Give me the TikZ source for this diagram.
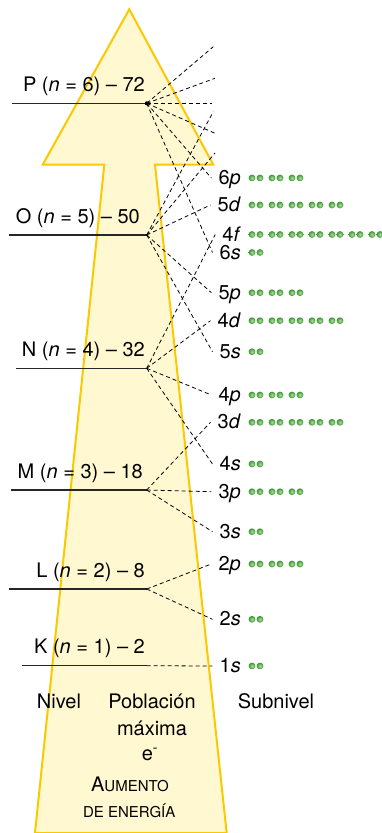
\documentclass[tikz,border=0pt]{standalone}
\usepackage{fontspec}
\setmainfont{TeX Gyre Heros}
\usetikzlibrary{calc}
\definecolor{arrowfill}{RGB}{255,248,209}
\definecolor{arrowedge}{RGB}{252,200,0}
\definecolor{dotgreen}{RGB}{56,150,50}
\definecolor{dotlight}{RGB}{175,222,155}

\begin{document}
\begin{tikzpicture}[x=1pt,y=-1pt,
    txt/.style={font=\fontsize{20}{24}\selectfont,inner sep=0pt},
    level/.style={line width=1.1pt,black!85},
    fan/.style={dash pattern=on 4pt off 3pt,line width=0.8pt},
    sub/.style={txt,anchor=east,inner xsep=7pt,text height=13pt,text depth=0pt}]
  \useasboundingbox (0,0) rectangle (382,833);
  % energy arrow
  \draw[line width=2pt,arrowedge,fill=arrowfill,line join=miter]
    (129.3,9.3) -- (213.3,164.7) -- (155,164.7) -- (226.7,833)
    -- (35,833) -- (104.3,164.7) -- (42.7,164.7) -- cycle;
  % levels: name / n / population / line start / label end / height
  \foreach \lvl/\qn/\pop/\xs/\xl/\yy in {P/6/72/12.3/145/103.3, O/5/50/9.3/140/235,
      N/4/32/16/145/368.3, M/3/18/11/143/490, L/2/8/9.3/145/589, K/1/2/21.7/145/665.7}{
    \coordinate (\lvl) at (146.7,\yy);
    \coordinate (start\lvl) at (\xs,\yy);
    \draw[level] (start\lvl) -- (\lvl);
    \node[txt,anchor=base east] (lab\lvl) at (\xl,\yy-11.8)
      {\lvl\ (\textit{n} = \qn) – \pop};
  }
  % sublevels with their electrons
  \foreach \qn/\orb/\yy/\pairs in {6/p/178/3, 5/d/205/5, 4/f/234.5/7, 6/s/252.5/1,
      5/p/292.7/3, 4/d/320.7/5, 5/s/351.7/1, 4/p/395/3, 3/d/422.3/5, 4/s/464/1,
      3/p/491.7/3, 3/s/531.7/1, 2/p/564/3, 2/s/619.3/1, 1/s/666/1}{
    \node[sub] (sub\qn\orb) at (248,\yy) {\qn\textit{\orb}};
    \foreach \k in {1,...,\pairs}
      \foreach \dx in {0,8}
        \shade[inner color=dotlight,outer color=dotgreen] (232+20*\k+\dx,\yy) circle (3.4);
  }
  % free ends of the upper fans
  \coordinate (endP1) at (213.3,46.7);
  \coordinate (endP2) at (215,78.3);
  \coordinate (endP3) at (212,103.3);
  \coordinate (endP4) at (215,133.3);
  \coordinate (endO1) at (213.3,111.7);
  \coordinate (endO2) at (215,153);
  % dashed fans
  \foreach \t in {endP1,endP2,endP3,endP4,sub6p.west,sub6s.west}
    \draw[fan] (P) -- (\t);
  \foreach \t in {endO1,endO2,sub5d.west,sub5p.west,sub5s.west}
    \draw[fan] (O) -- (\t);
  \foreach \t in {sub4f.west,sub4d.west,sub4p.west,sub4s.west}
    \draw[fan] (N) -- (\t);
  \foreach \t in {sub3d.west,sub3p.west,sub3s.west}
    \draw[fan] (M) -- (\t);
  \foreach \t in {sub2p.west,sub2s.west}
    \draw[fan] (L) -- (\t);
  \draw[fan] (K) -- (sub1s.west);
  \fill (P) circle (2);
  % captions
  \node[txt,anchor=base] (nivel) at (59,708.3) {Nivel};
  \node[txt,anchor=base] (poblacion) at (152,708.3) {Población};
  \node[txt,anchor=base] (maxima) at (152,735) {máxima};
  \node[txt,anchor=base] (electron) at (150,760) {e\textsuperscript{-}};
  \node[txt,anchor=base] (subnivel) at (276,708.3) {Subnivel};
  \node[txt,anchor=base] (aumento) at (130,791.7) {A{\fontsize{15}{18}\selectfont UMENTO}};
  \node[txt,anchor=base] (energia) at (129.2,817.3) {\fontsize{15}{18}\selectfont DE ENERGÍA};
\end{tikzpicture}
\end{document}
